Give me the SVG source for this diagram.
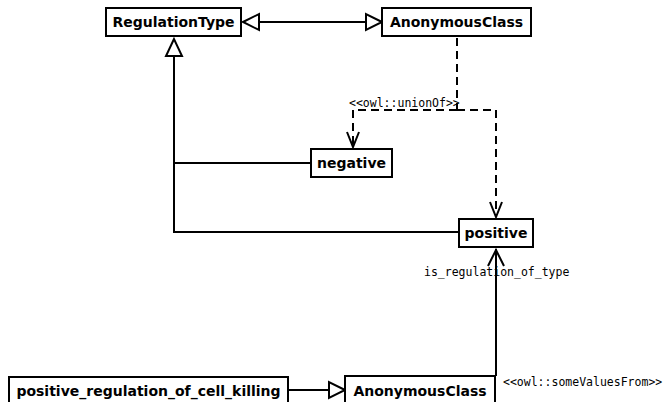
<svg xmlns="http://www.w3.org/2000/svg" width="664" height="402" viewBox="0 0 664 402">
<defs>
<style>
.box{fill:#fff;stroke:#000;stroke-width:2}
.nt{font-family:"DejaVu Sans",sans-serif;font-weight:bold;font-size:14px;fill:#000}
.lb{font-family:"DejaVu Sans Mono",monospace;font-size:11.5px;fill:#000}
.ln{fill:none;stroke:#000;stroke-width:2}
.dl{fill:none;stroke:#000;stroke-width:2;stroke-dasharray:8,5}
.tri{fill:#fff;stroke:#000;stroke-width:2}
.open{fill:none;stroke:#000;stroke-width:2}
</style>
</defs>
<rect width="664" height="402" fill="#fff"/>
<g id="connectors">
<line class="ln" x1="259" y1="22" x2="366" y2="22"/>
<polygon class="tri" points="243,22 259,14 259,30"/>
<polygon class="tri" points="382,22 366,14 366,30"/>
<polyline class="ln" points="174,56 174,232 459,232"/>
<line class="ln" x1="174" y1="163" x2="311" y2="163"/>
<polygon class="tri" points="174,39 166,56 182,56"/>
<line class="dl" x1="457" y1="38" x2="457" y2="110"/>
<polyline class="dl" points="457,110 496,110 496,216"/>
<polyline class="dl" points="457,110 353,110 353,146"/>
<polyline class="open" points="347,132 353,147 359,132"/>
<polyline class="open" points="490,202 496,217 502,202"/>
<text class="lb" x="349" y="107">&lt;&lt;owl::unionOf&gt;&gt;</text>
<line class="ln" x1="496" y1="376" x2="496" y2="249"/>
<polyline class="open" points="488,266 496,250 504,266"/>
<text class="lb" x="424" y="276">is_regulation_of_type</text>
<line class="ln" x1="288" y1="390" x2="329" y2="390"/>
<polygon class="tri" points="345,390 329,382 329,398"/>
<text class="lb" x="503" y="386">&lt;&lt;owl::someValuesFrom&gt;&gt;</text>
</g>
<g id="RegulationType">
<rect class="box" x="106" y="8" width="135" height="28"/>
<text class="nt" x="173.5" y="27" text-anchor="middle">RegulationType</text>
</g>
<g id="AnonymousClass1">
<rect class="box" x="382" y="8" width="149" height="28"/>
<text class="nt" x="456.5" y="27" text-anchor="middle">AnonymousClass</text>
</g>
<g id="negative">
<rect class="box" x="311" y="149" width="81" height="28"/>
<text class="nt" x="351.5" y="168" text-anchor="middle">negative</text>
</g>
<g id="positive">
<rect class="box" x="459" y="219" width="74" height="28"/>
<text class="nt" x="496" y="238" text-anchor="middle">positive</text>
</g>
<g id="positive_regulation_of_cell_killing">
<rect class="box" x="9" y="377" width="279" height="30"/>
<text class="nt" x="148.5" y="396" text-anchor="middle">positive_regulation_of_cell_killing</text>
</g>
<g id="AnonymousClass2">
<rect class="box" x="345" y="376" width="150" height="30"/>
<text class="nt" x="420" y="396" text-anchor="middle">AnonymousClass</text>
</g>
</svg>
